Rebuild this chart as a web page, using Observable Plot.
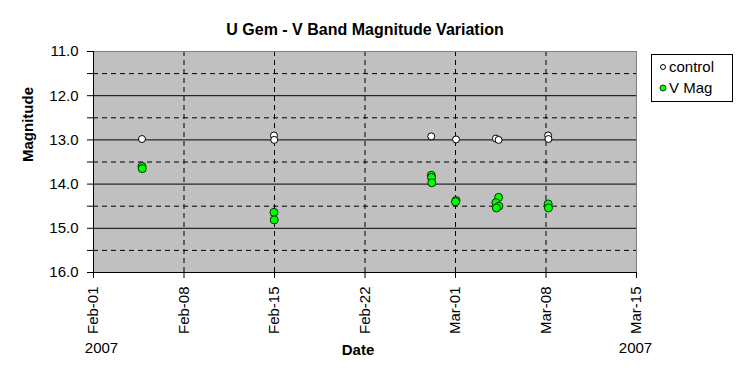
<!DOCTYPE html>
<html>
<head>
<meta charset="utf-8">
<script src="https://cdn.jsdelivr.net/npm/d3@7"></script>
<script src="https://cdn.jsdelivr.net/npm/@observablehq/plot@0.6"></script>
<style>
  html, body { margin: 0; padding: 0; background: #fff; }
  #wrap { position: relative; width: 749px; height: 382px; font-family: Arial, "Liberation Sans", sans-serif; }
  #legend { position: absolute; left: 651px; top: 54px; width: 80px; height: 46px; border: 1px solid #000; background: #fff; font-size: 15px; }
  #legend .row { position: absolute; left: 0; height: 20px; line-height: 20px; }
  #legend svg { position: absolute; left: 6px; top: 6px; }
  #legend span { position: absolute; left: 17px; white-space: nowrap; }
</style>
</head>
<body>
<div id="wrap">
  <div id="chart"></div>
  <div id="legend">
    <div class="row" style="top:2px"><svg width="10" height="10"><circle cx="5" cy="4" r="2.5" fill="#fff" stroke="#000" stroke-width="1"/></svg><span>control</span></div>
    <div class="row" style="top:23px"><svg width="10" height="10"><circle cx="5" cy="4" r="3" fill="#00ff00" stroke="#004000" stroke-width="1"/></svg><span>V Mag</span></div>
  </div>
</div>
<script>
const titleText = "U Gem - V Band Magnitude Variation";
const xLabel = "Date";
const yLabel = "Magnitude";
const seriesNames = ["control", "V Mag"];

// observation times (UTC) and magnitudes
const controlDates = ["2007-02-04T18:00Z", "2007-02-14T23:00Z", "2007-02-14T23:30Z", "2007-02-27T03:00Z", "2007-03-01T01:00Z", "2007-03-04T03:00Z", "2007-03-04T08:00Z", "2007-03-08T04:00Z", "2007-03-08T04:30Z"];
const controlMags  = [12.98, 12.90, 13.00, 12.92, 12.99, 12.97, 13.00, 12.90, 12.98];

const vDates = ["2007-02-04T18:00Z", "2007-02-04T18:30Z", "2007-02-14T23:00Z", "2007-02-14T23:30Z", "2007-02-27T03:00Z", "2007-02-27T03:30Z", "2007-02-27T04:00Z", "2007-03-01T01:00Z", "2007-03-01T00:00Z", "2007-03-04T08:00Z", "2007-03-04T03:00Z", "2007-03-04T08:30Z", "2007-03-04T04:00Z", "2007-03-08T04:00Z", "2007-03-08T04:30Z"];
const vMags  = [13.60, 13.65, 14.64, 14.81, 13.80, 13.85, 13.97, 14.37, 14.40, 14.30, 14.42, 14.50, 14.54, 14.45, 14.54];

const xTicks = ["2007-02-01", "2007-02-08", "2007-02-15", "2007-02-22", "2007-03-01", "2007-03-08", "2007-03-15"].map(d => new Date(d + "T00:00Z"));
const yMajor = [11, 12, 13, 14, 15, 16];
const yMinor = [11.5, 12.5, 13.5, 14.5, 15.5];
const yearLabel = "2007";

const control = controlDates.map((d, i) => ({date: new Date(d), mag: controlMags[i]}));
const vmag = vDates.map((d, i) => ({date: new Date(d), mag: vMags[i]}));
const innerTicks = xTicks.slice(1, -1);

const font = 'Arial, "Liberation Sans", sans-serif';

const chart = Plot.plot({
  width: 749,
  height: 382,
  marginLeft: 93,
  marginRight: 113,
  marginTop: 51,
  marginBottom: 110,
  style: {fontFamily: font, fontSize: "15px", color: "#000", background: "#fff"},
  x: {type: "utc", domain: [xTicks[0], xTicks[xTicks.length - 1]]},
  y: {domain: [11, 16], reverse: true},
  marks: [
    Plot.frame({fill: "#c0c0c0", stroke: null}),
    Plot.ruleY(yMinor, {stroke: "#000", strokeWidth: 1, strokeDasharray: "5,4"}),
    Plot.ruleX(innerTicks, {stroke: "#000", strokeWidth: 1, strokeDasharray: "5,4"}),
    Plot.ruleY(yMajor, {stroke: "#000", strokeWidth: 1}),
    Plot.frame({stroke: "#808080"}),
    Plot.ruleX([xTicks[0]], {stroke: "#000"}),
    Plot.ruleY([16], {stroke: "#000"}),
    Plot.axisY({ticks: yMajor, tickFormat: d => d.toFixed(1), tickSize: 6, tickPadding: 9, label: null, fontSize: 15}),
    Plot.axisY({ticks: yMinor, tickFormat: () => "", tickSize: 6, label: null}),
    Plot.axisX({ticks: xTicks, tickFormat: d3.utcFormat("%b-%d"), tickRotate: -90, tickSize: 6, tickPadding: 8, label: null, fontSize: 15}),
    Plot.dot(control, {x: "date", y: "mag", r: 3.5, fill: "#fff", stroke: "#000", strokeWidth: 1}),
    Plot.dot(vmag, {x: "date", y: "mag", r: 4, fill: "#00ff00", stroke: "#003000", strokeWidth: 1}),
    Plot.text([titleText], {frameAnchor: "top", dy: -28, fontWeight: "bold", fontSize: 16, text: d => d}),
    Plot.text([xLabel], {frameAnchor: "bottom", dy: 82, fontWeight: "bold", fontSize: 15, text: d => d, dx: -7}),
    Plot.text([yearLabel], {x: xTicks[0], frameAnchor: "bottom", dy: 80, dx: 8, fontSize: 15, text: d => d}),
    Plot.text([yearLabel], {x: xTicks[xTicks.length - 1], frameAnchor: "bottom", dy: 80, dx: -1, fontSize: 15, text: d => d}),
    Plot.text([yLabel], {frameAnchor: "left", dx: -65, rotate: -90, fontWeight: "bold", fontSize: 15, text: d => d})
  ]
});
document.getElementById("chart").appendChild(chart);
</script>
</body>
</html>
